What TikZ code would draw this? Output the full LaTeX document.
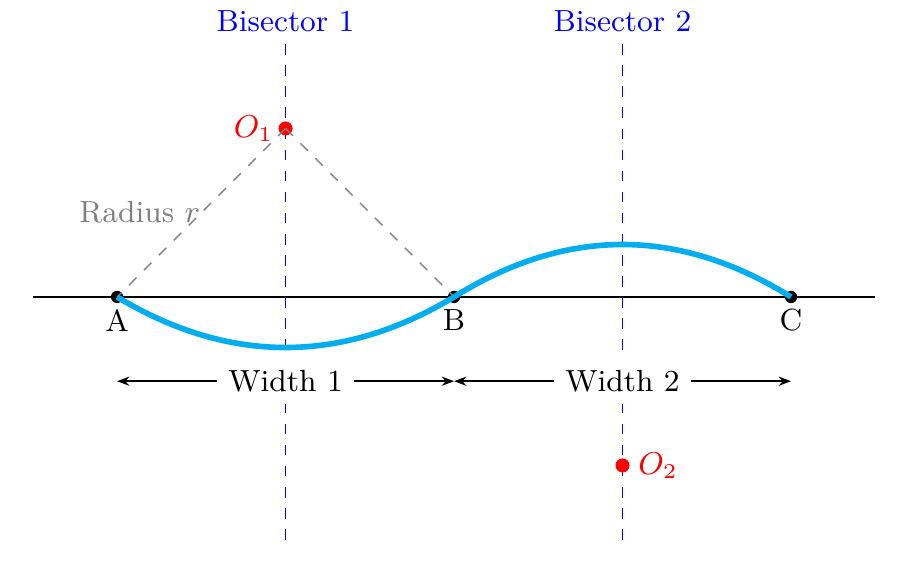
\documentclass[tikz,border=0pt]{standalone}
\usetikzlibrary{arrows.meta}
\definecolor{arcblue}{RGB}{0,174,239}
\begin{document}
\begin{tikzpicture}[x=0.8425cm,y=0.8425cm,
  every node/.style={font=\fontsize{8.7pt}{10pt}\selectfont},
  pt/.style={circle,fill=black,inner sep=0pt,minimum size=3.5pt},
  ctr/.style={circle,fill=red,inner sep=0pt,minimum size=4pt},
  bis/.style={draw=blue,dashed,thin},
  rad/.style={gray,dashed},
  dim/.style={{Stealth[length=3.5pt]}-{Stealth[length=3.5pt]}}]
\useasboundingbox (-1.39,-3.37) rectangle (9.46,3.525);
\coordinate (L) at (-1,0); \coordinate (R) at (9,0);
\draw[semithick] (L) -- (R);
\coordinate (b1t) at (2,3); \coordinate (b1b) at (2,-3);
\coordinate (b2t) at (6,3); \coordinate (b2b) at (6,-3);
\draw[bis] (b1t) -- (b1b); \draw[bis] (b2t) -- (b2b);
\node[text=blue,above] (lb1) at (b1t) {Bisector 1};
\node[text=blue,above] (lb2) at (b2t) {Bisector 2};
\node[pt] (A) at (0,0) {}; \node[pt] (B) at (4,0) {}; \node[pt] (C) at (8,0) {};
\node[below=0pt] (la) at (A) {A};
\node[below=0pt] (lb) at (B) {B};
\node[below=0pt] (lc) at (C) {C};
\node[ctr] (O1) at (2,2) {}; \node[ctr] (O2) at (6,-2) {};
\node[text=red,left=0pt] (lo1) at (O1) {$O_1$};
\node[text=red,right=1pt] (lo2) at (O2) {$O_2$};
\draw[rad] (O1.center) -- (A.center); \draw[rad] (O1.center) -- (B.center);
\node[text=gray] (lr) at (0.27,1.0) {Radius $r$};
\draw[arcblue,line width=1.6pt] (A.center) .. controls (1.33,-0.8) and (2.67,-0.8) .. (B.center)
  .. controls (5.33,0.83) and (6.67,0.83) .. (C.center);
\coordinate (w1a) at (0,-1); \coordinate (w1b) at (4,-1); \coordinate (w2b) at (8,-1);
\draw[dim] (w1a) -- node[fill=white] (lw1) {Width 1} (w1b);
\draw[dim] (w1b) -- node[fill=white] (lw2) {Width 2} (w2b);
\end{tikzpicture}
\end{document}
